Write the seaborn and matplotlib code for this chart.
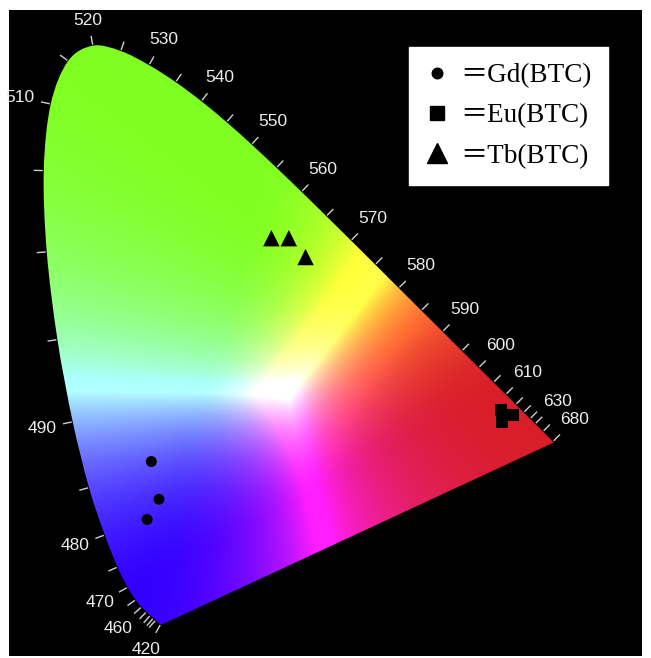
import numpy as np
import pandas as pd
import seaborn as sns
import matplotlib.pyplot as plt
from matplotlib.patches import PathPatch
from matplotlib.path import Path
from matplotlib.lines import Line2D
from matplotlib.font_manager import FontProperties, fontManager

# CIE 1931 spectral locus (2 deg observer), 5 nm steps
locus_nm = [380, 385, 390, 395, 400, 405, 410, 415, 420, 425, 430, 435, 440, 445,
            450, 455, 460, 465, 470, 475, 480, 485, 490, 495, 500, 505, 510, 515,
            520, 525, 530, 535, 540, 545, 550, 555, 560, 565, 570, 575, 580, 585,
            590, 595, 600, 605, 610, 615, 620, 625, 630, 635, 640, 645, 650, 655,
            660, 665, 670, 675, 680, 685, 690, 695, 700]
locus_x = [0.1741, 0.1740, 0.1738, 0.1736, 0.1733, 0.1730, 0.1726, 0.1721, 0.1714,
           0.1703, 0.1689, 0.1669, 0.1644, 0.1611, 0.1566, 0.1510, 0.1440, 0.1355,
           0.1241, 0.1096, 0.0913, 0.0687, 0.0454, 0.0235, 0.0082, 0.0039, 0.0139,
           0.0389, 0.0743, 0.1142, 0.1547, 0.1929, 0.2296, 0.2658, 0.3016, 0.3373,
           0.3731, 0.4087, 0.4441, 0.4788, 0.5125, 0.5448, 0.5752, 0.6029, 0.6270,
           0.6482, 0.6658, 0.6801, 0.6915, 0.7006, 0.7079, 0.7140, 0.7190, 0.7230,
           0.7260, 0.7283, 0.7300, 0.7311, 0.7320, 0.7327, 0.7334, 0.7340, 0.7344,
           0.7346, 0.7347]
locus_y = [0.0050, 0.0050, 0.0049, 0.0049, 0.0048, 0.0048, 0.0048, 0.0048, 0.0051,
           0.0058, 0.0069, 0.0086, 0.0109, 0.0138, 0.0177, 0.0227, 0.0297, 0.0399,
           0.0578, 0.0868, 0.1327, 0.2007, 0.2950, 0.4127, 0.5384, 0.6548, 0.7502,
           0.8120, 0.8338, 0.8262, 0.8059, 0.7816, 0.7543, 0.7243, 0.6923, 0.6589,
           0.6245, 0.5896, 0.5547, 0.5202, 0.4866, 0.4544, 0.4242, 0.3965, 0.3725,
           0.3514, 0.3340, 0.3197, 0.3083, 0.2993, 0.2920, 0.2859, 0.2809, 0.2770,
           0.2740, 0.2717, 0.2700, 0.2689, 0.2680, 0.2673, 0.2666, 0.2660, 0.2656,
           0.2654, 0.2653]

tick_nm = [420, 440, 445, 450, 455, 460, 465, 470, 475, 480, 485, 490, 495, 500,
           505, 510, 515, 520, 525, 530, 535, 540, 545, 550, 555, 560, 565, 570,
           575, 580, 585, 590, 595, 600, 605, 610, 615, 620, 625, 630, 640, 680]
label_nm = [420, 460, 470, 480, 490, 510, 520, 530, 540, 550, 560, 570, 580,
            590, 600, 610, 630, 680]

# white point of the colour rendering
white_xy = (0.354, 0.334)

# measured chromaticity points
samples = ["Gd(BTC)", "Eu(BTC)", "Tb(BTC)"]
gd_x = [0.158, 0.169, 0.152]
gd_y = [0.238, 0.184, 0.155]
eu_x = [0.659, 0.676, 0.660]
eu_y = [0.312, 0.305, 0.294]
tb_x = [0.330, 0.355, 0.379]
tb_y = [0.558, 0.558, 0.531]

df = pd.DataFrame({
    "x": gd_x + eu_x + tb_x,
    "y": gd_y + eu_y + tb_y,
    "sample": [samples[0]] * 3 + [samples[1]] * 3 + [samples[2]] * 3,
})

sns.set_theme(style="white")
names = {f.name for f in fontManager.ttflist}
if "Liberation Sans Narrow" in names:
    lab_family, lab_size = "Liberation Sans Narrow", 14.5
else:
    lab_family, lab_size = "Liberation Sans", 12.5

fig = plt.figure(figsize=(6.51, 6.58), dpi=100)
fig.patch.set_facecolor("white")
ax = fig.add_axes([9 / 651, 1 / 658, 633 / 651, 648 / 658])
ax.set_facecolor("black")
xmin, xmax, ymin, ymax = -0.0459, 0.8610, -0.0407, 0.8850
ax.set_xlim(xmin, xmax)
ax.set_ylim(ymin, ymax)
ax.set_xticks([])
ax.set_yticks([])
for s in ax.spines.values():
    s.set_visible(False)

# colour field of the horseshoe
M = np.array([[3.2406, -1.5372, -0.4986],
              [-0.9689, 1.8758, 0.0415],
              [0.0557, -0.2040, 1.0570]])


def xy_to_rgb(x, y):
    yc = np.clip(y, 1e-4, None)
    xyz = np.stack([x / yc, np.ones_like(x), (1 - x - y) / yc], axis=-1)
    return xyz @ M.T


gx, gy = np.meshgrid(np.linspace(xmin, xmax, 760), np.linspace(ymin, ymax, 760))
rgb = xy_to_rgb(gx, gy) / xy_to_rgb(np.array(white_xy[0]), np.array(white_xy[1]))
rgb = np.clip(rgb, 0, None)
rgb = rgb / np.clip(rgb.max(axis=-1, keepdims=True), 1e-9, None)
rgb = rgb ** 1.5
P = np.array([[0.85, 0.12, 0.16],
              [0.50, 1.00, 0.13],
              [0.20, 0.00, 1.00]])
img = np.clip(rgb @ P, 0, 1)
im = ax.imshow(img, extent=(xmin, xmax, ymin, ymax), origin="lower",
               interpolation="bilinear", zorder=1)

# smooth outline of the locus (cubic segments through the locus points)
pts = np.column_stack([locus_x, locus_y])
verts = [pts[0]]
codes = [Path.MOVETO]
n = len(pts)
for i in range(n - 1):
    p0 = pts[max(i - 1, 0)]
    p1 = pts[i]
    p2 = pts[i + 1]
    p3 = pts[min(i + 2, n - 1)]
    verts += [p1 + (p2 - p0) / 6, p2 - (p3 - p1) / 6, p2]
    codes += [Path.CURVE4] * 3
verts += [pts[0], pts[0]]
codes += [Path.LINETO, Path.CLOSEPOLY]
outline = PathPatch(Path(verts, codes), facecolor="none", edgecolor="none")
ax.add_patch(outline)
im.set_clip_path(outline)

# wavelength ticks and labels
lx = np.array(locus_x)
ly = np.array(locus_y)
tx = np.gradient(lx)
ty = np.gradient(ly)
nx, ny = -ty, tx
nn = np.hypot(nx, ny)
nx, ny = nx / nn, ny / nn
px = 698.0
for nm in tick_nm:
    i = locus_nm.index(nm)
    x0, y0 = lx[i] + nx[i] * 1 / px, ly[i] + ny[i] * 1 / px
    x1, y1 = lx[i] + nx[i] * 10 / px, ly[i] + ny[i] * 10 / px
    ax.plot([x0, x1], [y0, y1], color="#cfcfcf", lw=1.0, zorder=2,
            solid_capstyle="butt")
for nm in label_nm:
    i = locus_nm.index(nm)
    d = (15 + 15 * abs(nx[i]) + 8 * abs(ny[i])) / px
    ax.text(lx[i] + nx[i] * d, ly[i] + ny[i] * d, str(nm), color="#ececec",
            ha="center", va="center", fontsize=lab_size, family=lab_family,
            zorder=3)

marker_map = {"Gd(BTC)": "o", "Eu(BTC)": "s", "Tb(BTC)": "^"}
size_map = {"Gd(BTC)": 62, "Eu(BTC)": 75, "Tb(BTC)": 140}
sns.scatterplot(data=df, x="x", y="y", style="sample", markers=marker_map,
                size="sample", sizes=size_map, color="black", edgecolor="black",
                linewidth=0, legend=False, ax=ax, zorder=4)
ax.set_xlabel("")
ax.set_ylabel("")

handles = [
    Line2D([], [], marker="o", color="black", linestyle="none", markersize=7.6),
    Line2D([], [], marker="s", color="black", linestyle="none", markersize=9.6),
    Line2D([], [], marker="^", color="black", linestyle="none", markersize=14.4),
]
labels = ["\uff1d" + s for s in samples]
leg = ax.legend(handles, labels, loc="upper right",
                bbox_to_anchor=(608 / 651, 1 - 47 / 658), bbox_transform=fig.transFigure,
                borderaxespad=0,
                prop=FontProperties(family=["Liberation Serif", "Noto Sans CJK SC"],
                                    size=19.5),
                frameon=True, fancybox=False, framealpha=1,
                facecolor="white", edgecolor="white",
                handlelength=0.9, handletextpad=0.4, borderpad=0.6,
                labelspacing=0.56)
leg.set_zorder(5)
for t in leg.get_texts():
    t.set_color("black")

fig.savefig("out.png", dpi=100, facecolor="white")
